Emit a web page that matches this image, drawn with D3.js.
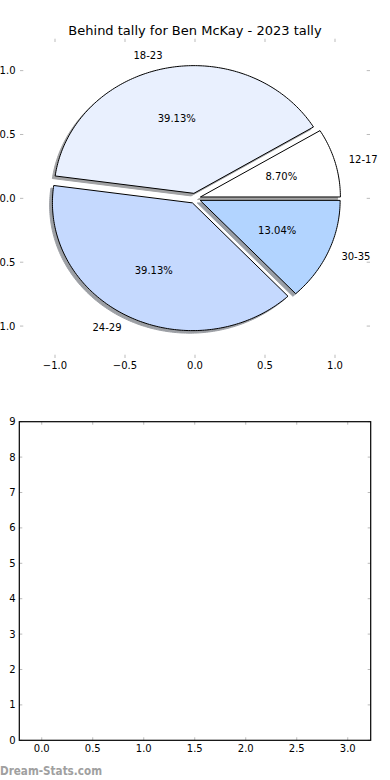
<!DOCTYPE html>
<html>
<head>
<meta charset="utf-8">
<script src="https://cdn.jsdelivr.net/npm/d3@7"></script>
<style>
html,body{margin:0;padding:0;background:#fff;}
svg{display:block;}
text{font-family:"DejaVu Sans",sans-serif;}
</style>
</head>
<body>
<svg id="chart" width="390" height="780"></svg>
<script>
// ---- data ----
const title = "Behind tally for Ben McKay - 2023 tally";
const categories = ["12-17", "18-23", "24-29", "30-35"];
const counts = [2, 9, 9, 3];
const colors = ["#ffffff", "#e9f0fe", "#c5d9fe", "#b2d4ff"];
const explode = [0.04, 0.04, 0.04, 0.04];
const pieTicks = [-1.0, -0.5, 0.0, 0.5, 1.0];
const barXTicks = [0.0, 0.5, 1.0, 1.5, 2.0, 2.5, 3.0];
const barYTicks = [0, 1, 2, 3, 4, 5, 6, 7, 8, 9];
const watermark = "Dream-Stats.com";

const svg = d3.select("#chart");
const fmt1 = d => (d < 0 ? "\u2212" : "") + Math.abs(d).toFixed(1);

// ---- pie axes ----
const px = d3.scaleLinear().domain([-1.25, 1.25]).range([20, 370]);
const py = d3.scaleLinear().domain([-1.25, 1.25]).range([358, 38.7]);

svg.append("text").attr("x", 195).attr("y", 34.5).attr("text-anchor", "middle")
  .attr("font-size", 13).attr("fill", "#000").text(title);

const total = d3.sum(counts);
const arcs = d3.pie().sort(null).startAngle(0).endAngle(2 * Math.PI)(counts);

function wedgePath(a, i, ox, oy) {
  const mid = (a.startAngle + a.endAngle) / 2;
  const cx = explode[i] * Math.cos(mid) + ox;
  const cy = explode[i] * Math.sin(mid) + oy;
  const p = d3.path();
  p.moveTo(px(cx), py(cy));
  const n = Math.max(8, Math.ceil((a.endAngle - a.startAngle) * 60));
  for (let k = 0; k <= n; k++) {
    const t = a.startAngle + (a.endAngle - a.startAngle) * k / n;
    p.lineTo(px(cx + Math.cos(t)), py(cy + Math.sin(t)));
  }
  p.closePath();
  return p.toString();
}

function shade(c) {
  const r = d3.rgb(c);
  return d3.rgb(r.r * 0.3, r.g * 0.3, r.b * 0.3).toString();
}

const pieG = svg.append("g");
// shadows first (below wedges)
arcs.forEach((a, i) => {
  pieG.append("path").attr("d", wedgePath(a, i, -0.02, -0.02))
    .attr("fill", shade(colors[i])).attr("stroke", shade(colors[i]))
    .attr("stroke-width", 1).attr("opacity", 0.5);
});
arcs.forEach((a, i) => {
  pieG.append("path").attr("d", wedgePath(a, i, 0, 0))
    .attr("fill", colors[i]).attr("stroke", "#000").attr("stroke-width", 1)
    .attr("stroke-linejoin", "miter");
});
// labels
arcs.forEach((a, i) => {
  const mid = (a.startAngle + a.endAngle) / 2;
  const cx = explode[i] * Math.cos(mid), cy = explode[i] * Math.sin(mid);
  const lx = cx + 1.1 * Math.cos(mid), ly = cy + 1.1 * Math.sin(mid);
  pieG.append("text").attr("x", px(lx)).attr("y", py(ly)).attr("dy", "0.35em")
    .attr("text-anchor", lx > 0 ? "start" : "end").attr("font-size", 10)
    .text(categories[i]);
  const tx = cx + 0.6 * Math.cos(mid), ty = cy + 0.6 * Math.sin(mid);
  pieG.append("text").attr("x", px(tx)).attr("y", py(ty)).attr("dy", "0.35em")
    .attr("text-anchor", "middle").attr("font-size", 10)
    .text((100 * counts[i] / total).toFixed(2) + "%");
});

// pie ticks (spines hidden, ticks inside, gray)
const tickCol = "#bbbbbb";
const pAx = svg.append("g");
pieTicks.forEach(t => {
  pAx.append("line").attr("x1", px(t)).attr("x2", px(t)).attr("y1", 38.7).attr("y2", 42).attr("stroke", tickCol);
  pAx.append("line").attr("x1", px(t)).attr("x2", px(t)).attr("y1", 358).attr("y2", 354.7).attr("stroke", tickCol);
  pAx.append("line").attr("y1", py(t)).attr("y2", py(t)).attr("x1", 20).attr("x2", 23.3).attr("stroke", tickCol);
  pAx.append("line").attr("y1", py(t)).attr("y2", py(t)).attr("x1", 370).attr("x2", 366.7).attr("stroke", tickCol);
  pAx.append("text").attr("x", px(t)).attr("y", 365).attr("dy", "0.35em").attr("text-anchor", "middle")
    .attr("font-size", 10).text(fmt1(t));
  pAx.append("text").attr("x", 15.5).attr("y", py(t)).attr("dy", "0.35em").attr("text-anchor", "end")
    .attr("font-size", 10).text(fmt1(t));
});

// ---- bottom empty axes ----
const bx = d3.scaleLinear().domain([-0.22, 3.225]).range([19.3, 370.7]);
const by = d3.scaleLinear().domain([0, 9]).range([740.3, 421.7]);
const bG = svg.append("g");
barXTicks.forEach(t => {
  bG.append("line").attr("x1", bx(t)).attr("x2", bx(t)).attr("y1", by(0)).attr("y2", by(0) - 3).attr("stroke", tickCol);
  bG.append("line").attr("x1", bx(t)).attr("x2", bx(t)).attr("y1", by(9)).attr("y2", by(9) + 3).attr("stroke", tickCol);
  bG.append("text").attr("x", bx(t)).attr("y", 748.5).attr("dy", "0.35em").attr("text-anchor", "middle")
    .attr("font-size", 10).text(t.toFixed(1));
});
barYTicks.forEach(t => {
  bG.append("line").attr("y1", by(t)).attr("y2", by(t)).attr("x1", bx(-0.22)).attr("x2", bx(-0.22) + 3).attr("stroke", tickCol);
  bG.append("line").attr("y1", by(t)).attr("y2", by(t)).attr("x1", bx(3.225)).attr("x2", bx(3.225) - 3).attr("stroke", tickCol);
  bG.append("text").attr("x", 15.5).attr("y", by(t)).attr("dy", "0.35em").attr("text-anchor", "end")
    .attr("font-size", 10).text(t);
});
bG.append("rect").attr("x", bx(-0.22)).attr("y", by(9)).attr("width", bx(3.225) - bx(-0.22))
  .attr("height", by(0) - by(9)).attr("fill", "none").attr("stroke", "#000").attr("stroke-width", 1.2);

svg.append("text").attr("x", 0).attr("y", 775).attr("font-size", 12).attr("fill", "#a0a0a0")
  .attr("font-family", "'Open Sans', sans-serif").attr("font-weight", 600)
  .attr("textLength", 102).attr("lengthAdjust", "spacingAndGlyphs").text(watermark);
</script>
</body>
</html>
